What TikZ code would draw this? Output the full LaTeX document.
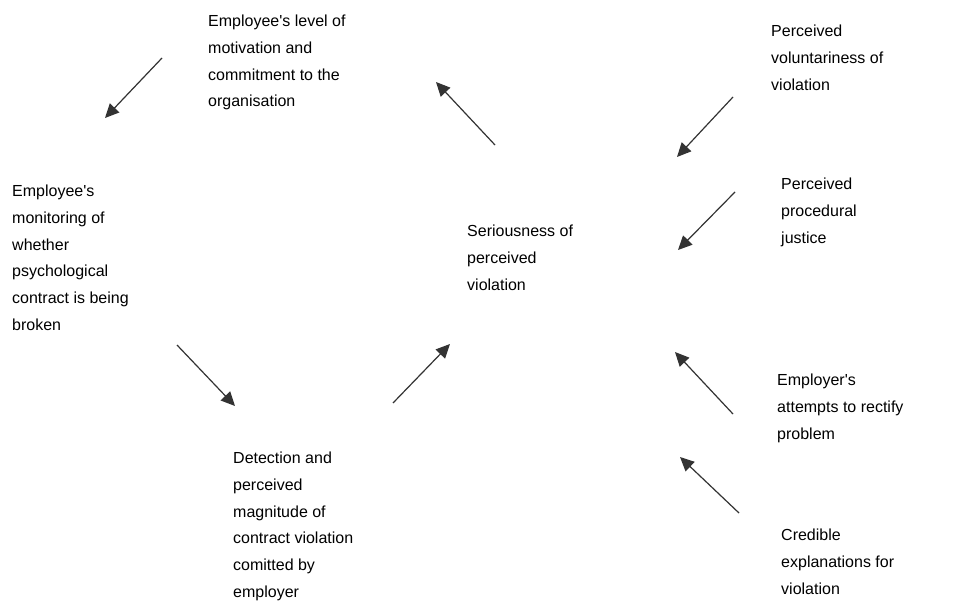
\documentclass[tikz,border=0pt]{standalone}
\usepackage{fontspec}
\setmainfont{Liberation Sans}
\usetikzlibrary{arrows.meta}
\begin{document}
\begin{tikzpicture}[x=1pt,y=-1pt,
  lbl/.style={anchor=north west,inner sep=0pt,align=left,font=\fontsize{16}{26.7}\selectfont},
  arr/.style={draw=black!80,line width=1.2pt,-{Triangle[length=14pt,width=13pt]}}]
\useasboundingbox[fill=white] (0,0) rectangle (953,607);
\node[lbl] (motiv) at (208,15) {Employee\textquotesingle s level of\\motivation and\\commitment to the\\organisation};
\node[lbl] (monit) at (12,185) {Employee\textquotesingle s\\monitoring of\\whether\\psychological\\contract is being\\broken};
\node[lbl] (serious) at (467,225) {Seriousness of\\perceived\\violation};
\node[lbl] (detect) at (233,452) {Detection and\\perceived\\magnitude of\\contract violation\\comitted by\\employer};
\node[lbl] (volunt) at (771,25) {Perceived\\voluntariness of\\violation};
\node[lbl] (proced) at (781,178) {Perceived\\procedural\\justice};
\node[lbl] (rectify) at (777,374) {Employer\textquotesingle s\\attempts to rectify\\problem};
\node[lbl] (explain) at (781,529) {Credible\\explanations for\\violation};
% arrow end points
\coordinate (a1) at (162,58);  \coordinate (a2) at (105,118);
\coordinate (b1) at (495,145); \coordinate (b2) at (436,82);
\coordinate (c1) at (177,345); \coordinate (c2) at (235,406);
\coordinate (d1) at (393,403); \coordinate (d2) at (450,344);
\coordinate (e1) at (733,97);  \coordinate (e2) at (677,157);
\coordinate (f1) at (735,192); \coordinate (f2) at (678,250);
\coordinate (g1) at (733,414); \coordinate (g2) at (675,352);
\coordinate (h1) at (739,513); \coordinate (h2) at (680,457);
\draw[arr] (a1) -- (a2);
\draw[arr] (b1) -- (b2);
\draw[arr] (c1) -- (c2);
\draw[arr] (d1) -- (d2);
\draw[arr] (e1) -- (e2);
\draw[arr] (f1) -- (f2);
\draw[arr] (g1) -- (g2);
\draw[arr] (h1) -- (h2);
\end{tikzpicture}
\end{document}
